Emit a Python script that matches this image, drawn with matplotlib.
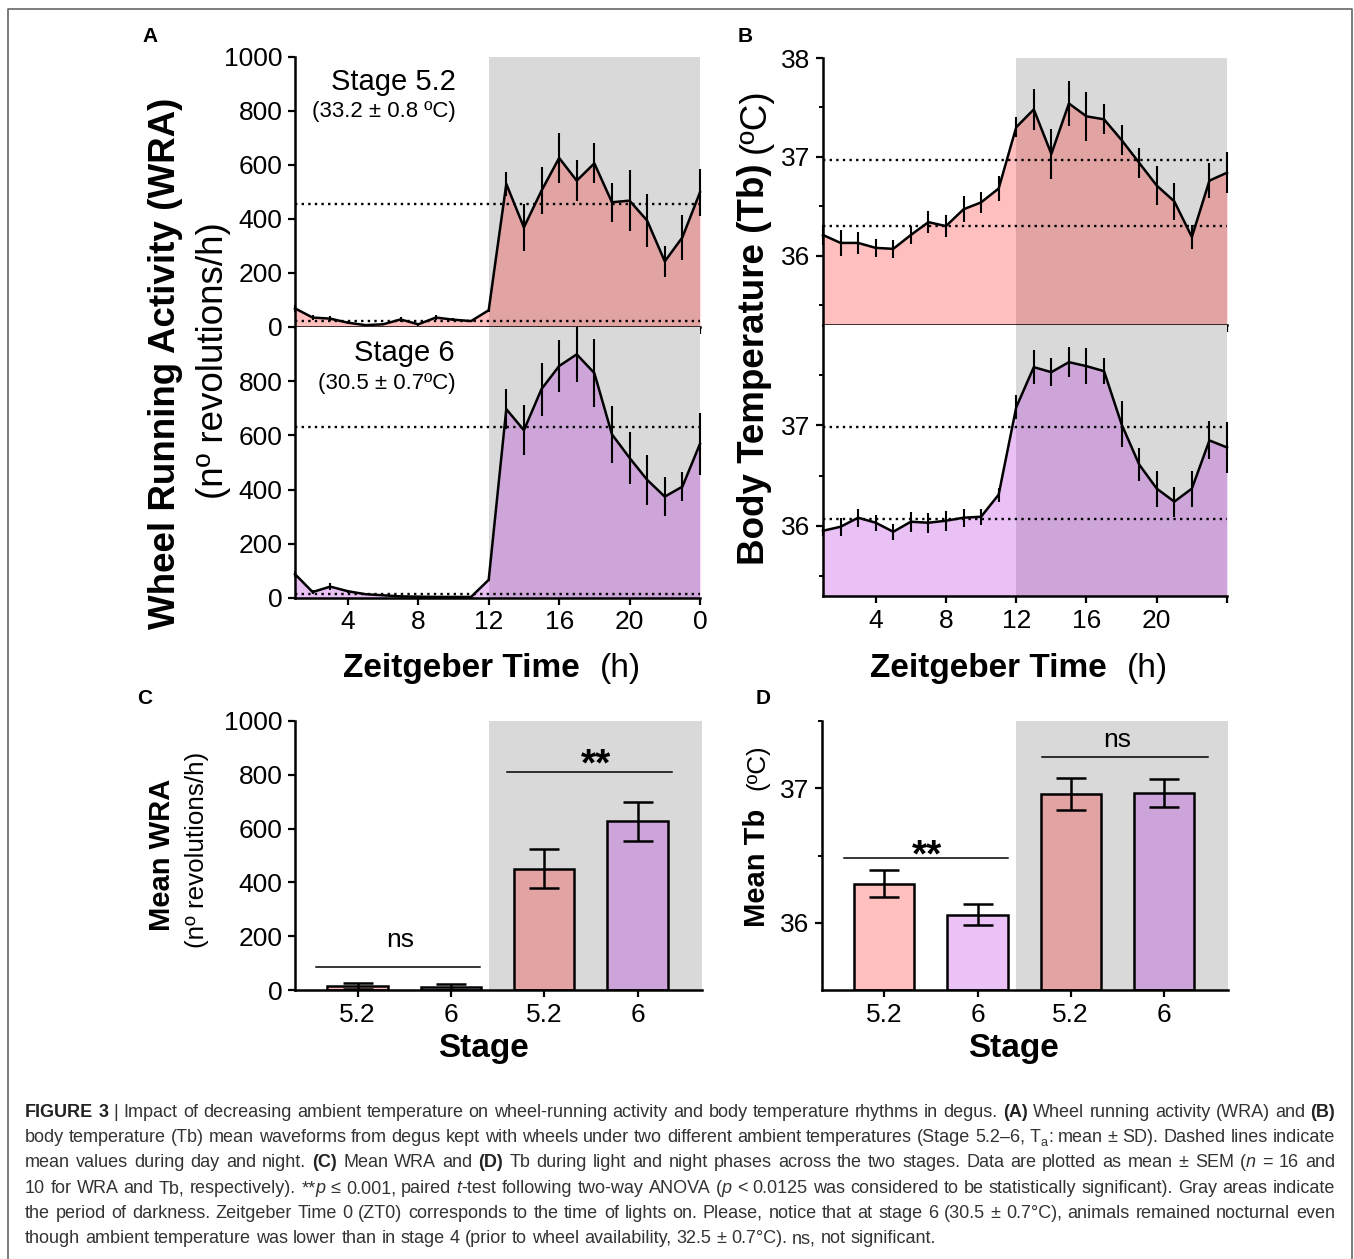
import numpy as np
import matplotlib
matplotlib.use("Agg")
import matplotlib.pyplot as plt
from matplotlib.lines import Line2D

plt.rcParams['font.family'] = ['Liberation Sans', 'DejaVu Sans']

W, H = 1354, 1259

# ---- data ----
hours = np.arange(1, 25)

wra_52 = [69, 35, 31, 16, 7, 10, 28, 10, 35, 27, 22, 62,
          530, 369, 505, 626, 542, 606, 462, 468, 394, 243, 332, 499]
wra_52_sd = [12, 10, 10, 6, 4, 4, 8, 5, 10, 6, 5, 8,
             44, 88, 88, 91, 75, 74, 73, 113, 98, 56, 82, 88]
wra_6 = [88, 22, 42, 25, 14, 10, 6, 5, 4, 4, 4, 67,
         697, 619, 771, 856, 899, 830, 604, 517, 436, 374, 411, 569]
wra_6_sd = [10, 8, 14, 6, 4, 3, 3, 2, 2, 2, 2, 6,
            75, 93, 98, 95, 102, 124, 106, 95, 91, 71, 53, 115]

tb_52 = [36.21, 36.13, 36.13, 36.08, 36.07, 36.21, 36.34, 36.30, 36.47, 36.54, 36.68, 37.30,
         37.48, 37.03, 37.54, 37.41, 37.38, 37.17, 36.94, 36.71, 36.55, 36.19, 36.76, 36.84]
tb_52_sd = [0.10, 0.13, 0.11, 0.09, 0.09, 0.09, 0.11, 0.11, 0.13, 0.11, 0.13, 0.10,
            0.21, 0.25, 0.23, 0.25, 0.15, 0.15, 0.15, 0.20, 0.19, 0.12, 0.18, 0.21]
tb_6 = [35.95, 35.99, 36.08, 36.03, 35.94, 36.04, 36.03, 36.05, 36.08, 36.09, 36.31, 37.18,
        37.58, 37.53, 37.63, 37.59, 37.54, 37.01, 36.61, 36.37, 36.24, 36.37, 36.85, 36.78]
tb_6_sd = [0.05, 0.09, 0.09, 0.08, 0.08, 0.10, 0.10, 0.10, 0.09, 0.08, 0.07, 0.12,
           0.17, 0.14, 0.15, 0.18, 0.13, 0.23, 0.16, 0.18, 0.15, 0.18, 0.19, 0.25]

# day / night means (dotted lines)
wra_52_day, wra_52_night = 22, 454
wra_6_day, wra_6_night = 14, 631
tb_52_day, tb_52_night = 36.30, 36.97
tb_6_day, tb_6_night = 36.07, 36.98

# panels C and D
stage_labels = ['5.2', '6', '5.2', '6']
mean_wra = [16, 10, 451, 627]
sem_wra = [11, 11, 73, 73]
mean_tb = [36.29, 36.06, 36.955, 36.965]
sem_tb = [0.10, 0.08, 0.12, 0.105]

GRAY = '#D9D9D9'
PINK_L, PURP_L = '#FFBFBF', '#EAC2F5'
PINK_D, PURP_D = '#E3A3A3', '#CDA4D9'
# translucent fills -> light over white, darker over the gray band
FILL_PINK = (1.0, 0.04, 0.04, 0.26)
FILL_PURP = (0.67, 0.07, 0.85, 0.26)

fig = plt.figure(figsize=(W / 100, H / 100), dpi=100)


def ax_px(l, t, r, b):
    return fig.add_axes([l / W, 1 - b / H, (r - l) / W, (b - t) / H])


def fx(x, y):
    return x / W, 1 - y / H


def style_axes(ax):
    for s in ['top', 'right']:
        ax.spines[s].set_visible(False)
    for s in ['left', 'bottom']:
        ax.spines[s].set_linewidth(1.8)
    ax.tick_params(which='major', direction='out', length=5, width=1.6,
                   labelsize=19, pad=4)
    ax.tick_params(which='minor', direction='out', length=3, width=1.4)


def time_panel(ax, y, err, day, night, fill, ylim):
    ax.axvspan(12, 24, color=GRAY, lw=0, zorder=0)
    ax.fill_between(hours, y, ylim[0], color=fill, lw=0, zorder=1)
    ax.axhline(night, ls=(0, (1, 1.8)), color='k', lw=1.7, zorder=2)
    ax.axhline(day, ls=(0, (1, 1.8)), color='k', lw=1.7, zorder=2)
    eb = ax.errorbar(hours, y, yerr=err, color='k', lw=1.8, elinewidth=1.5,
                     capsize=0, zorder=3)
    for a in eb.lines[0:1] + tuple(eb.lines[2]):
        a.set_clip_on(False)
    ax.set_xlim(1, 24)
    ax.set_ylim(ylim)
    ax.set_xticks([4, 8, 12, 16, 20, 24])
    style_axes(ax)


# ---- panel A ----
a1 = ax_px(295, 57, 700, 327)
time_panel(a1, wra_52, wra_52_sd, wra_52_day, wra_52_night, FILL_PINK, (0, 1000))
a1.set_yticks(np.arange(0, 1001, 200))
a1.tick_params(labelbottom=False)

a2 = ax_px(295, 327, 700, 598)
time_panel(a2, wra_6, wra_6_sd, wra_6_day, wra_6_night, FILL_PURP, (0, 1000))
a2.set_yticks(np.arange(0, 801, 200))
a2.set_xticklabels(['4', '8', '12', '16', '20', '0'])

# ---- panel B ----
b1 = ax_px(823, 58, 1227, 325)
time_panel(b1, tb_52, tb_52_sd, tb_52_day, tb_52_night, FILL_PINK, (35.3, 38))
b1.set_yticks([36, 37, 38])
b1.set_yticks([35.5, 36.5, 37.5], minor=True)
b1.tick_params(labelbottom=False)

b2 = ax_px(823, 325, 1227, 596)
time_panel(b2, tb_6, tb_6_sd, tb_6_day, tb_6_night, FILL_PURP, (35.3, 38))
b2.set_yticks([36, 37])
b2.set_yticks([35.5, 36.5, 37.5], minor=True)
b2.set_xticklabels(['4', '8', '12', '16', '20', ''])


# ---- panels C and D ----
def bar_panel(ax, means, sems, ylim):
    pos = np.arange(len(means))
    ax.axvspan(1.41, 3.69, color=GRAY, lw=0, zorder=0)
    base = ylim[0]
    ax.bar(pos, np.array(means) - base, bottom=base, width=0.645,
           color=[PINK_L, PURP_L, PINK_D, PURP_D], edgecolor='k', lw=1.8, zorder=2)
    ax.errorbar(pos, means, yerr=sems, fmt='none', ecolor='k', elinewidth=1.8,
                capsize=11, capthick=1.8, zorder=3)
    ax.set_xlim(-0.67, 3.69)
    ax.set_ylim(ylim)
    ax.set_xticks(pos)
    ax.set_xticklabels(stage_labels)
    style_axes(ax)


c = ax_px(295, 721, 702, 990)
bar_panel(c, mean_wra, sem_wra, (0, 1000))
c.set_yticks(np.arange(0, 1001, 200))
c.plot([-0.45, 1.31], [84, 84], color='k', lw=1.1)
c.text(0.46, 160, 'ns', ha='center', va='baseline', fontsize=19)
c.plot([1.60, 3.37], [810, 810], color='k', lw=1.1)
c.text(2.55, 797, '**', ha='center', va='baseline', fontsize=28, fontweight='bold')

d = ax_px(822, 721, 1228, 990)
bar_panel(d, mean_tb, sem_tb, (35.5, 37.5))
d.set_yticks([36, 37])
d.set_yticks([36.5, 37.5], minor=True)
d.plot([-0.43, 1.33], [36.48, 36.48], color='k', lw=1.1)
d.text(0.46, 36.42, '**', ha='center', va='baseline', fontsize=28, fontweight='bold')
d.plot([1.69, 3.47], [37.23, 37.23], color='k', lw=1.1)
d.text(2.5, 37.31, 'ns', ha='center', va='baseline', fontsize=19)

# ---- text ----
fig.text(*fx(456, 82), 'Stage 5.2', ha='right', va='center', fontsize=21)
fig.text(*fx(456, 112), '(33.2 ± 0.8 ºC)', ha='right', va='center', fontsize=16)
fig.text(*fx(455, 353), 'Stage 6', ha='right', va='center', fontsize=21)
fig.text(*fx(456, 384), '(30.5 ± 0.7ºC)', ha='right', va='center', fontsize=16)

for lab, (x, y) in zip('ABCD', [(150, 36), (745, 36), (145, 698), (763, 698)]):
    fig.text(*fx(x, y), lab, ha='center', va='center', fontsize=15, fontweight='bold')

fig.text(*fx(166, 363), 'Wheel Running Activity (WRA)', rotation=90, ha='center',
         va='center', fontsize=26.5, fontweight='bold')
fig.text(*fx(213, 361), '(nº revolutions/h)', rotation=90, ha='center',
         va='center', fontsize=26.5)
fig.text(*fx(755, 364), 'Body Temperature (Tb)', rotation=90, ha='center',
         va='center', fontsize=26.5, fontweight='bold')
fig.text(*fx(755, 121), '(ºC)', rotation=90, ha='center', va='center', fontsize=26.5)

for x0, x1 in [(343, 600), (870, 1127)]:
    fig.text(*fx(x0, 668), 'Zeitgeber Time', ha='left', va='center',
             fontsize=24, fontweight='bold')
    fig.text(*fx(x1, 668), '(h)', ha='left', va='center', fontsize=24)

fig.text(*fx(162, 855), 'Mean WRA', rotation=90, ha='center', va='center',
         fontsize=21, fontweight='bold')
fig.text(*fx(197, 850), '(nº revolutions/h)', rotation=90, ha='center',
         va='center', fontsize=18.7)
fig.text(*fx(757, 868), 'Mean Tb', rotation=90, ha='center', va='center',
         fontsize=21, fontweight='bold')
fig.text(*fx(757, 767), '(ºC)', rotation=90, ha='center', va='center', fontsize=18.7)
fig.text(*fx(483, 1048), 'Stage', ha='center', va='center', fontsize=24, fontweight='bold')
fig.text(*fx(1013, 1048), 'Stage', ha='center', va='center', fontsize=24, fontweight='bold')

# ---- caption (justified) ----
CAP = '#333333'
caption = [
    [("FIGURE 3", "b"), (" | ", "r"),
     ("Impact of decreasing ambient temperature on wheel-running activity and body "
      "temperature rhythms in degus. ", "r"), ("(A)", "b"),
     (" Wheel running activity (WRA) and ", "r"), ("(B)", "b")],
    [("body temperature (Tb) mean waveforms from degus kept with wheels under two "
      "different ambient temperatures (Stage 5.2–6, T", "r"), ("a", "s"),
     (": mean ± SD). Dashed lines indicate", "r")],
    [("mean values during day and night. ", "r"), ("(C)", "b"), (" Mean WRA and ", "r"),
     ("(D)", "b"),
     (" Tb during light and night phases across the two stages. Data are plotted as "
      "mean ± SEM (", "r"), ("n", "i"), (" = 16 and", "r")],
    [("10 for WRA and Tb, respectively). **", "r"), ("p", "i"), (" ≤ 0.001, paired ", "r"),
     ("t", "i"), ("-test following two-way ANOVA (", "r"), ("p", "i"),
     (" < 0.0125 was considered to be statistically significant). Gray areas indicate", "r")],
    [("the period of darkness. Zeitgeber Time 0 (ZT0) corresponds to the time of lights "
      "on. Please, notice that at stage 6 (30.5 ± 0.7°C), animals remained nocturnal even", "r")],
    [("though ambient temperature was lower than in stage 4 (prior to wheel availability, "
      "32.5 ± 0.7°C). ns, not significant.", "r")],
]
baselines = [1117, 1142, 1167, 1193, 1218, 1243]
left, right = 25, 1335

renderer = fig.canvas.get_renderer()


def make_piece(x, y, s, st, size):
    kw = dict(fontsize=size, color=CAP, ha='left', va='baseline')
    if st == 'b':
        kw['fontweight'] = 'bold'
        kw['color'] = '#222222'
    if st == 'i':
        kw['fontstyle'] = 'italic'
    if st == 's':
        kw['fontsize'] = size * 0.7
        y += 4
    return fig.text(*fx(x, y), s, **kw)


def width_of(s, st, size):
    t = make_piece(0, 0, s, st, size)
    w = t.get_window_extent(renderer).width
    t.remove()
    return w


def split_words(pieces):
    words = [[]]
    for txt, st in pieces:
        parts = txt.split(' ')
        for k, p in enumerate(parts):
            if k > 0:
                words.append([])
            if p:
                words[-1].append((p, st))
    return [w for w in words if w]


def space_of(size):
    return width_of('x x', 'r', size) - width_of('xx', 'r', size)


# size calibrated on the last (ragged) line, which ends near x = 940
last = split_words(caption[-1])
nat = sum(width_of(p, st, 12) for w in last for p, st in w) + space_of(12) * (len(last) - 1)
cap_size = 12 * (940 - left) / nat
sp = space_of(cap_size)

for i, pieces in enumerate(caption):
    words = split_words(pieces)
    widths = [[width_of(p, st, cap_size) for p, st in w] for w in words]
    total = sum(sum(w) for w in widths)
    if i < len(caption) - 1:
        gap = (right - left - total) / (len(words) - 1)
    else:
        gap = sp
    x = left
    for w, ws in zip(words, widths):
        for (p, st), pw in zip(w, ws):
            make_piece(x, baselines[i], p, st, cap_size)
            x += pw
        x += gap

# outer frame
fig.add_artist(Line2D([8 / W, 8 / W, 1352 / W, 1352 / W], [0, 1 - 9 / H, 1 - 9 / H, 0],
                      color='#666666', lw=1.2))

fig.savefig('out.png', dpi=100)
